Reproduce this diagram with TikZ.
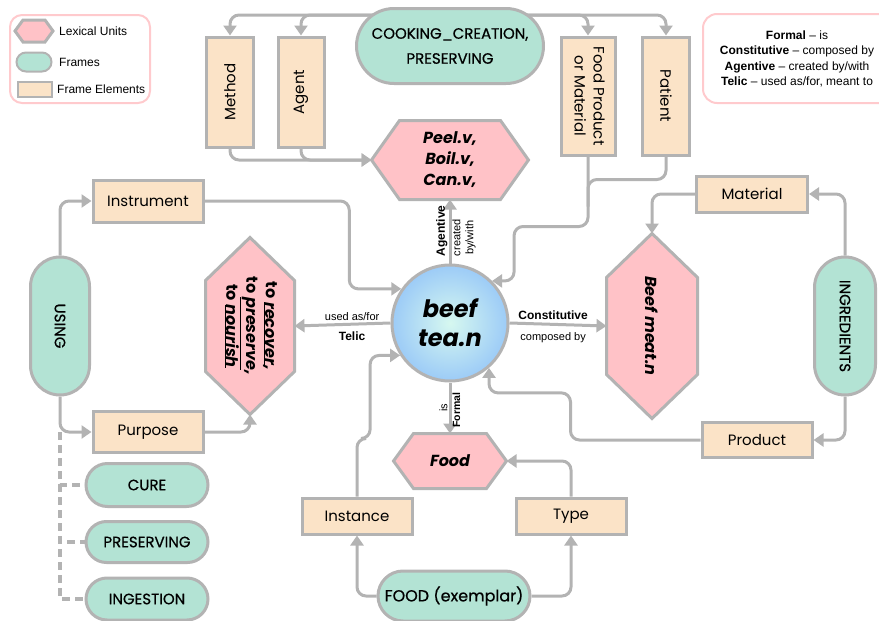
\documentclass[tikz,border=0pt]{standalone}
\usepackage{fontspec}
\setmainfont{Poppins}
\newfontfamily\framefont[FakeBold=0.6]{Poppins}
\newfontfamily\legfont{Liberation Sans}
\usetikzlibrary{arrows.meta, positioning, calc, backgrounds}

\definecolor{lexpink}{HTML}{FFC2C7}
\definecolor{framemint}{HTML}{B3E3D4}
\definecolor{fepeach}{HTML}{FBE3C7}
\definecolor{edgegray}{HTML}{B3B3B3}
\definecolor{legpink}{HTML}{FFCACD}
\definecolor{teain}{HTML}{D6F8F0}
\definecolor{teaout}{HTML}{9CCBF7}

\tikzset{
  felem/.style={draw=edgegray, fill=fepeach, line width=3pt, inner sep=0pt, font=\fontsize{15}{19}\selectfont},
  frame/.style={draw=edgegray, fill=framemint, line width=3pt, inner sep=0pt, font=\framefont\fontsize{15}{25}\selectfont},
  lexunit/.style={inner sep=0pt, outer sep=1.5pt, font=\bfseries\itshape\fontsize{16}{21}\selectfont},
  lexhex/.style={draw=edgegray, fill=lexpink, line width=3pt},
  line/.style={draw=edgegray, line width=3pt, rounded corners=9pt},
  link/.style={line, -{Triangle[length=10pt,width=13pt]}},
  dashlink/.style={draw=edgegray, line width=3.2pt, dash pattern=on 8pt off 5pt},
  rellabel/.style={font=\legfont\fontsize{11}{13}\selectfont, inner sep=1pt},
  relname/.style={font=\legfont\bfseries\fontsize{12}{14}\selectfont, inner sep=1pt},
  legtext/.style={font=\legfont\fontsize{12}{15.5}\selectfont, inner sep=0pt},
}

\newcommand\hexside[2]{%
  \begin{scope}[on background layer]
    \draw[lexhex] (#1.west) -- ([xshift=#2]#1.north west) -- ([xshift=-#2]#1.north east)
      -- (#1.east) -- ([xshift=-#2]#1.south east) -- ([xshift=#2]#1.south west) -- cycle;
  \end{scope}}
\newcommand\hexupright[2]{%
  \begin{scope}[on background layer]
    \draw[lexhex] (#1.north) -- ([yshift=-#2]#1.north east) -- ([yshift=#2]#1.south east)
      -- (#1.south) -- ([yshift=#2]#1.south west) -- ([yshift=-#2]#1.north west) -- cycle;
  \end{scope}}

\begin{document}
\begin{tikzpicture}[x=1pt, y=-1pt]
  \def\few{110}
  \clip (0,0) rectangle (879,621);

  % legends
  \draw[legpink, line width=2pt, rounded corners=12pt] (10,15) rectangle (150,103);
  \node[lexunit, minimum width=35, minimum height=19] (leglu) at (34,31) {};
  \hexside{leglu}{8}
  \node[frame, line width=2pt, minimum width=35, minimum height=19, rounded corners=9.5] (legfr) at (34,62) {};
  \node[felem, line width=2pt, minimum width=34, minimum height=15] (legfe) at (35,89) {};
  \node[legtext, anchor=west] (leglutext) at (59,31) {Lexical Units};
  \node[legtext, anchor=west] (legfrtext) at (59,62) {Frames};
  \node[legtext, anchor=west] (legfetext) at (57,89) {Frame Elements};

  \draw[legpink, line width=2pt, rounded corners=14pt] (703,14) rectangle (910,103);
  \node[legtext, align=center] (qualia) at (797,59) {\textbf{Formal} – is\\
    \textbf{Constitutive} – composed by\\ \textbf{Agentive} – created by/with\\
    \textbf{Telic} – used as/for, meant to};

  % nodes
  \node[frame, minimum width=187, minimum height=75, rounded corners=37.5, align=center] (cook) at (450,46) {COOKING\_CREATION,\\PRESERVING};
  \node[felem, minimum width=47, minimum height=110] (method) at (230,92) {\rotatebox{90}{Method}};
  \node[felem, minimum width=46, minimum height=110] (agent) at (301,92) {\rotatebox{90}{Agent}};
  \node[felem, minimum width=54, minimum height=118] (foodprod) at (588,96) {\rotatebox{-90}{\begin{tabular}{@{}c@{}}Food Product\\or Material\end{tabular}}};
  \node[felem, minimum width=47, minimum height=118] (patient) at (666,96) {\rotatebox{-90}{Patient}};

  \node[lexunit, minimum width=154, minimum height=76, align=center] (peel) at (450,160) {Peel.v,\\Boil.v,\\Can.v,};
  \hexside{peel}{28}

  \node[felem, minimum width=\few, minimum height=42] (instr) at (148,201) {Instrument};
  \node[frame, minimum width=59, minimum height=138, rounded corners=29.5] (using) at (60,326) {\rotatebox{-90}{USING}};
  \node[felem, minimum width=\few, minimum height=41] (purp) at (148,432) {Purpose};
  \node[lexunit, minimum width=86, minimum height=174, font=\bfseries\itshape\fontsize{16}{19.5}\selectfont] (telic) at (250,326) {\rotatebox{-90}{\begin{tabular}{@{}c@{}}{\upshape to} \underline{recover},\\{\upshape to} \underline{preserve},\\{\upshape to} \underline{nourish}\end{tabular}}};
  \hexupright{telic}{43}

  \node[circle, minimum size=116, inner sep=0pt, draw=edgegray, line width=3pt, shading=radial, inner color=teain, outer color=teaout, align=center, font=\bfseries\itshape\fontsize{24}{29}\selectfont] (tea) at (450,323) {beef\\tea.n};

  \node[lexunit, minimum width=88, minimum height=182] (beefm) at (652,326) {\rotatebox{-90}{Beef meat.n}};
  \hexupright{beefm}{44}
  \node[felem, minimum width=111, minimum height=36] (mat) at (752,194) {Material};
  \node[frame, minimum width=61, minimum height=138, rounded corners=30.5] (ingr) at (845,326) {\rotatebox{-90}{INGREDIENTS}};
  \node[felem, minimum width=\few, minimum height=35] (prod) at (757,440) {Product};

  \node[lexunit, minimum width=110, minimum height=52] (food) at (450,461) {Food};
  \hexside{food}{20}
  \node[felem, minimum width=\few, minimum height=36] (inst) at (357,516) {Instance};
  \node[felem, minimum width=\few, minimum height=36] (type) at (571,516) {Type};
  \node[frame, minimum width=152, minimum height=50, rounded corners=25, font=\framefont\fontsize{16}{18}\selectfont] (foodex) at (454,596) {FOOD (exemplar)};

  \node[frame, minimum width=122, minimum height=43, rounded corners=21.5] (cure) at (147,485) {CURE};
  \node[frame, minimum width=122, minimum height=41, rounded corners=20.5] (pres) at (147,542) {PRESERVING};
  \node[frame, minimum width=122, minimum height=42, rounded corners=21] (ingest) at (147,599) {INGESTION};

  % connectors
  \begin{scope}[on background layer]
    \coordinate (topy) at (0,15);
    \draw[link] (cook |- topy) -| (method.north);
    \draw[link] (cook |- topy) -| (agent.north);
    \draw[link] (cook |- topy) -| (foodprod.north);
    \draw[link] (cook |- topy) -| (patient.north);
  \end{scope}
  \draw[link] (method.south) |- (peel.west);
  \draw[link] (agent.south) |- (peel.west);
  \draw[link] (foodprod.south) -- ++(0,70) -| ([xshift=22pt]tea.45) -- (tea.45);
  \draw[line] (patient.south) -- ++(0,23) -| ($(foodprod.south)+(0,50)$);

  \draw[link] (using.north) |- (instr.west);
  \draw[link] (using.south) |- (purp.west);
  \draw[dashlink] (using.south |- purp.west) |- (cure.west);
  \draw[dashlink] (using.south |- purp.west) |- (pres.west);
  \draw[dashlink] (using.south |- purp.west) |- (ingest.west);
  \draw[link] (instr.east) -| ([xshift=-52pt]tea.145) -- (tea.145);
  \draw[link] (purp.east) -| (telic.south);

  \draw[link] (tea.west) -- (telic.east) node[pos=0.4, above=1pt, rellabel] {used as/for} node[pos=0.4, below=5pt, relname] {Telic};
  \draw[link] (tea.east) -- (beefm.west) node[pos=0.45, above=2pt, relname] {Constitutive} node[pos=0.45, below=6pt, rellabel] {composed by};
  \draw[link] (tea.north) -- (peel.south) node[pos=0.45, rotate=90, above=4pt, relname] {Agentive} node[pos=0.45, rotate=90, below=3pt, rellabel, align=center] {created\\by/with};
  \draw[link] (tea.south) -- (food.north) node[midway, rotate=90, above, rellabel] {is} node[midway, rotate=90, below=2pt, relname, font=\legfont\bfseries\fontsize{10.5}{12}\selectfont] {Formal};

  \draw[link] (mat.west) -| (beefm.north);
  \draw[link] (ingr.north) |- (mat.east);
  \draw[link] (ingr.south) |- (prod.east);
  \draw[link] (prod.west) -- ++(-130,0) |- ([yshift=-25pt]tea.-49) -- (tea.-49);

  \draw[link] (inst.north) -- ++(0,-58) -| ([xshift=-30pt]tea.213) -- (tea.213);
  \draw[link] (type.north) |- (food.east);
  \draw[link] (foodex.west) -| (inst.south);
  \draw[link] (foodex.east) -| (type.south);
\end{tikzpicture}
\end{document}
